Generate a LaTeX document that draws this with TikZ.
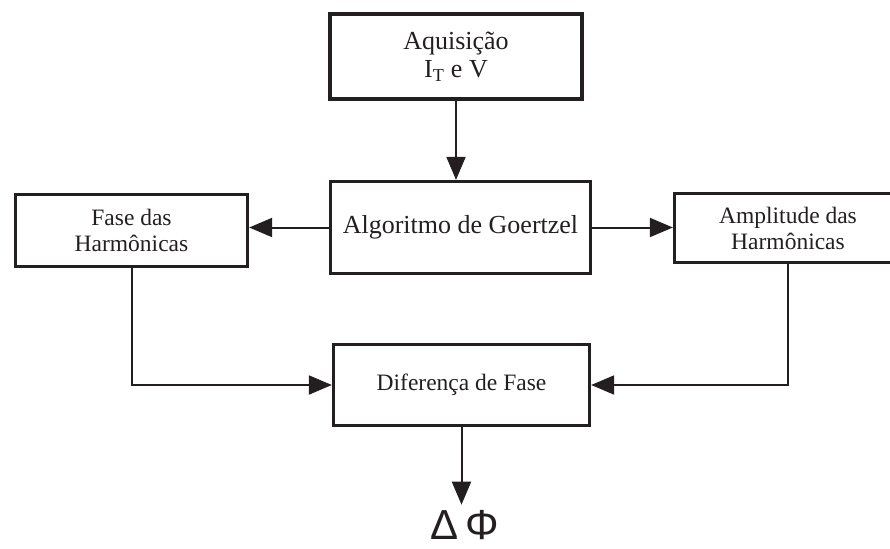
\documentclass[tikz,border=0pt]{standalone}
\usepackage{fontspec}
\setmainfont{Liberation Serif}
\newfontfamily\symfont{Liberation Sans}
\usetikzlibrary{arrows.meta}
\definecolor{ink}{HTML}{231F20}

\begin{document}
\begin{tikzpicture}[x=1pt, y=-1pt, ink,
        blockbig/.style={draw=ink, line width=3.3pt, align=center, inner sep=0pt,
            font=\fontsize{26}{28}\selectfont},
        blocksmall/.style={draw=ink, line width=3.3pt, align=center, inner sep=0pt,
            font=\fontsize{23.5}{26}\selectfont},
        conn/.style={draw=ink, line width=2pt, -{Triangle[length=23pt, width=19pt]}}]

        \useasboundingbox (0, 0) rectangle (890, 548);
        \clip (0, 0) rectangle (890, 548);

        % Top Box: Acquisition
        \node[blockbig, minimum width=252, minimum height=85] (acq) at (456, 56.5)
            {Aquisição\\I\textsubscript{T} e V};

        % Middle Box: Goertzel Algorithm
        \node[blockbig, minimum width=260, minimum height=92] (goertzel) at (460.5, 227.5)
            {Algoritmo de Goertzel};

        % Left Box: Phase
        \node[blocksmall, minimum width=232, minimum height=72] (fase) at (131.5, 230.5)
            {Fase das\\Harmônicas};

        % Right Box: Amplitude
        \node[blocksmall, minimum width=227, minimum height=69] (amp) at (788, 228)
            {Amplitude das\\Harmônicas};

        % Bottom Box: Phase Difference
        \node[blocksmall, minimum width=256, minimum height=81] (dif) at (461.5, 385)
            {Diferença de Fase};

        % Output
        \node[inner sep=0pt, anchor=base, font=\symfont\fontsize{42}{42}\selectfont]
            (dphi) at (465, 539) {Δ\hspace{7pt}Φ};

        % Connectors
        \draw[conn] (acq.south) -- (acq.south |- goertzel.north);
        \draw[conn] (goertzel.west) -- (goertzel.west -| fase.east);
        \draw[conn] (goertzel.east) -- (goertzel.east -| amp.west);
        \draw[conn] (fase.south) |- (dif.west);
        \draw[conn] (amp.south) |- (dif.east);
        \draw[conn, shorten >=5pt] (dif.south) -- (dif.south |- dphi.north);

\end{tikzpicture}
\end{document}
